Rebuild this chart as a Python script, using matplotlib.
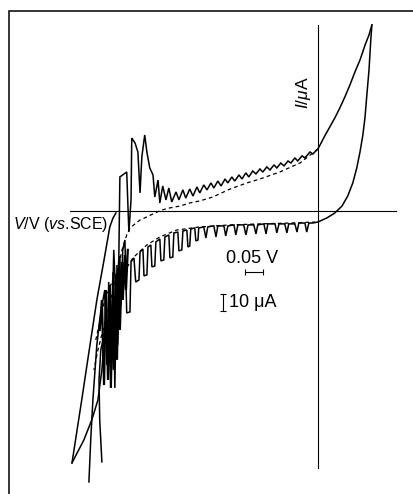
import matplotlib
matplotlib.use("Agg")
import matplotlib.pyplot as plt

plt.rcParams['font.family'] = ['Liberation Sans', 'DejaVu Sans']
plt.rcParams['mathtext.fontset'] = 'custom'
plt.rcParams['mathtext.rm'] = 'Liberation Sans'
plt.rcParams['mathtext.it'] = 'Liberation Sans:italic'

# potential in mV relative to the axis crossing, current in uA
# lower branch of the noisy sweep, left to right, up to the vertex
lower_E = [-636, -631, -625, -619, -614, -606, -597, -592, -586, -581, -575, -569, -564,
           -558, -556, -550, -547, -542, -536, -531, -522, -519, -511, -506, -497, -494,
           -486, -483, -475, -472, -464, -461, -453, -450, -439, -436, -428, -425, -414,
           -411, -403, -400, -389, -386, -378, -375, -364, -361, -356, -353, -342, -339,
           -333, -331, -317, -311, -306, -289, -283, -278, -261, -256, -250, -233, -228,
           -222, -206, -200, -194, -178, -172, -167, -150, -144, -139, -119, -114, -108,
           -92, -86, -81, -64, -58, -53, -36, -31, -25, -14, 0, 25, 47, 67, 83, 97, 108,
           117, 125, 131, 136, 142, 147, 150]
lower_I = [-159.4, -134.7, -111.2, -93.5, -78.8, -64.1, -52.4, -46.5, -90.6, -41.8, -98.2,
           -35.9, -104.1, -31.8, -78.8, -26.5, -55.3, -22.9, -17.1, -60.0, -59.4, -30.0,
           -27.6, -41.8, -40.6, -24.1, -22.4, -38.2, -37.6, -21.2, -20.0, -32.9, -32.4,
           -18.2, -16.5, -29.4, -28.8, -15.3, -14.1, -27.6, -27.1, -12.9, -12.4, -23.5,
           -22.9, -11.8, -11.2, -21.2, -20.6, -10.6, -10.0, -17.6, -17.1, -10.0, -9.4,
           -15.9, -9.4, -8.8, -15.3, -8.8, -8.8, -14.7, -8.8, -8.2, -14.1, -8.2, -8.2,
           -14.1, -8.2, -8.2, -13.5, -8.2, -7.6, -13.5, -7.6, -7.6, -12.9, -7.6, -7.6,
           -12.9, -7.6, -7.6, -12.4, -7.1, -7.1, -12.4, -7.1, -7.1, -6.5, -4.1, -1.2, 2.9,
           8.8, 16.5, 25.3, 34.7, 44.7, 55.3, 68.2, 82.9, 100.6, 109.4]

# return branch, from the vertex back to the lower-left tail
upper_E = [150, 142, 131, 117, 103, 89, 75, 61, 47, 33, 19, 6, 0, -14, -22, -36, -44, -56,
           -64, -75, -83, -94, -103, -114, -122, -133, -142, -153, -161, -172, -181, -192,
           -200, -211, -219, -231, -239, -250, -258, -269, -278, -289, -297, -308, -317,
           -328, -336, -347, -356, -367, -375, -386, -394, -406, -414, -422, -431, -439,
           -444, -453, -458, -467, -475, -481, -489, -494, -500, -508, -517, -519, -525,
           -531, -550, -553, -561, -567, -572, -578, -583, -589, -600, -611, -628, -650,
           -683]
upper_I = [109.4, 103.5, 97.6, 88.8, 81.8, 74.1, 67.1, 60.6, 54.7, 49.4, 44.1, 38.8, 36.5,
           33.5, 34.7, 31.2, 32.4, 29.4, 31.2, 28.2, 29.4, 26.5, 28.2, 25.3, 27.1, 24.1,
           25.9, 22.9, 24.7, 21.8, 23.5, 20.0, 22.4, 18.8, 21.2, 17.6, 20.0, 16.5, 18.8,
           14.7, 17.6, 13.5, 16.5, 12.4, 15.3, 10.6, 14.1, 8.8, 12.9, 7.6, 12.4, 6.5, 11.2,
           5.3, 13.5, 6.5, 14.7, 4.7, 18.2, 8.2, 21.2, 25.3, 34.7, 44.7, 31.8, 10.6, 34.7,
           40.0, 42.9, 6.5, -12.4, 22.9, 20.0, -28.8, -52.4, -22.9, -70.0, -46.5, -81.8,
           -64.1, -93.5, -111.2, -122.9, -134.7, -148.2]

# extra sweeps in the lower-left tail
tail1_E = [-683, -656, -633, -614, -594, -578, -569, -561]
tail1_I = [-148.2, -111.2, -78.8, -52.4, -28.8, -9.4, -4.1, -1.2]
tail2_E = [-600, -606, -608, -603, -597]
tail2_I = [-147.6, -122.9, -99.4, -81.8, -75.9]
cluster_E = [-606, -600, -594, -589, -583, -578, -575, -569, -567, -561, -558, -553, -550,
             -544, -542, -536, -533, -528]
cluster_I = [-70.0, -52.4, -102.4, -46.5, -99.4, -43.5, -104.1, -40.6, -93.5, -37.6,
             -87.6, -33.5, -70.0, -30.0, -52.4, -25.9, -46.5, -22.9]

# smooth (dashed) voltammogram
dash_up_E = [0, -14, -50, -106, -161, -197, -244, -292, -328, -356, -383, -411, -433,
             -453, -475, -494, -508, -522, -531, -544, -556, -569, -583, -597, -611, -622]
dash_up_I = [36.5, 34.1, 28.2, 22.9, 18.8, 16.5, 12.9, 8.2, 5.9, 4.7, 2.9, 1.8, 0.6,
             -1.2, -3.5, -5.3, -7.6, -10.0, -14.1, -22.9, -34.7, -46.5, -58.2, -70.0,
             -81.8, -93.5]
dash_lo_E = [-617, -592, -564, -531, -514, -475, -439, -392, -328, -244, -161, -78, -8]
dash_lo_I = [-75.9, -52.4, -37.6, -33.5, -27.6, -20.0, -15.3, -11.2, -9.4, -8.2, -7.6,
             -7.1, -6.5]

fig = plt.figure(figsize=(4.14, 4.94), dpi=100)
ax = fig.add_axes([0, 0, 1, 1])
ax.set_xlim(-883, 267)
ax.set_ylim(-166.5, 124.1)
ax.axis('off')

# frame (top and left edges)
ax.plot([0.0217, 0.0217, 1.0], [0.0, 0.9777, 0.9777], color='black', lw=1.1,
        transform=ax.transAxes, solid_joinstyle='miter')

# axes through the origin
ax.plot([-689, 217], [0, 0], color='black', lw=0.8)
ax.plot([0, 0], [-151.2, 109.4], color='black', lw=0.8)

kw = dict(color='black', lw=1.1, solid_joinstyle='miter')
ax.plot(lower_E, lower_I, **kw)
ax.plot(upper_E, upper_I, **kw)
ax.plot(tail1_E, tail1_I, **kw)
ax.plot(tail2_E, tail2_I, **kw)
ax.plot(cluster_E, cluster_I, color='black', lw=1.6, solid_joinstyle='miter')
ax.plot(dash_up_E, dash_up_I, color='black', lw=0.9, dashes=(3, 2.5))
ax.plot(dash_lo_E, dash_lo_I, color='black', lw=0.9, dashes=(3, 2.5))

# scale bars
ax.errorbar([-178], [-35.9], xerr=[25], color='black', lw=0.8, capsize=2.5, capthick=0.8)
ax.errorbar([-264], [-54.1], yerr=[5], color='black', lw=0.8, capsize=2.5, capthick=0.8)
ax.text(-183, -28.2, '0.05 V', ha='center', va='center', fontsize=13)
ax.text(-247, -54.1, '10 \u03bcA', ha='left', va='center', fontsize=13)

ax.text(-847, -8.2, r'$\mathit{V}$/V ($\mathit{vs}$.SCE)', ha='left', va='center',
        fontsize=11.5)
ax.text(-39, 69.4, r'$\mathit{I}$/$\mu$A', ha='center', va='center', fontsize=12.5,
        rotation=90)

fig.savefig('out.png', dpi=100)
